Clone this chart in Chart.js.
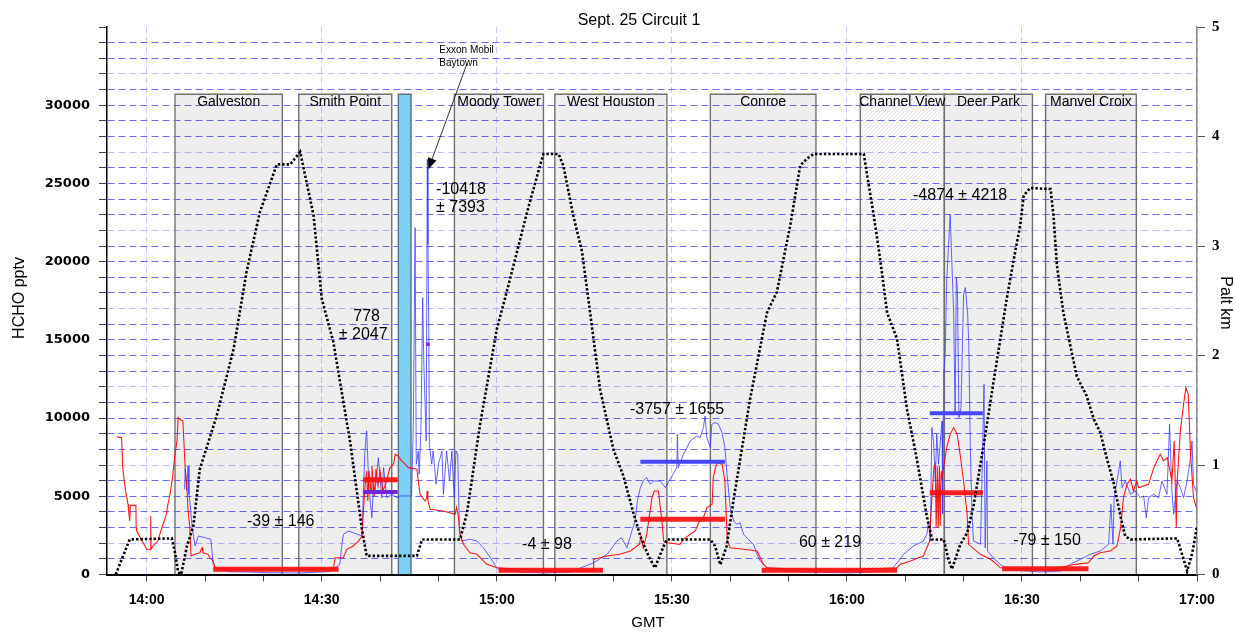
<!DOCTYPE html>
<html>
<head>
<meta charset="utf-8">
<script src="https://cdn.jsdelivr.net/npm/chart.js@4/dist/chart.umd.min.js"></script>
<style>
  html, body { margin: 0; padding: 0; background: #fff; }
  canvas { display: block; }
</style>
</head>
<body>
<canvas id="chart" width="1235" height="632"></canvas>
<script>
Chart.defaults.font.family = '"Liberation Sans", Arial, sans-serif';
Chart.defaults.color = '#000';

// time axis is minutes after 14:00 GMT
// sampling boxes (site name, start, end) and the plume crossing
const SITE_NAMES = ['Galveston', 'Smith Point', 'Moody Tower', 'West Houston', 'Conroe', 'Channel View', 'Deer Park', 'Manvel Croix'];
const SITE_START = [4.85, 26.06, 52.74, 69.95, 96.6, 122.3, 136.7, 154.05];
const SITE_END   = [23.25, 42.0, 68.0, 89.15, 114.7, 136.7, 151.8, 169.6];
const SITE_TOP = 30700;
const PLUME = [43.13, 45.3];

// pressure altitude, km
const ALT_KM = [
  [-5.3,0],[-4.2,0.15],[-2.9,0.32],[4.3,0.33],[4.85,0.2],[5.4,0.02],[5.9,0],[6.9,0.26],[8.0,0.44],[9.1,0.96],
  [12.0,1.45],[14.9,2.06],[17.1,2.76],[19.4,3.31],[22.3,3.745],[24.6,3.745],[26.3,3.86],[28.6,3.28],[30.0,2.52],
  [32.0,2.12],[34.9,1.2],[36.9,0.41],[37.7,0.17],[46.3,0.17],[47.2,0.32],[53.7,0.32],[54.9,0.565],[57.1,1.36],
  [60.0,2.24],[61.7,2.58],[65.2,3.31],[67.4,3.735],[68.0,3.84],[70.6,3.84],[71.4,3.735],[73.1,3.28],[74.6,2.95],
  [76.0,2.39],[77.7,1.69],[80.0,1.14],[81.7,0.9],[83.4,0.565],[84.6,0.35],[86.0,0.17],[87.1,0.06],[88.6,0.26],
  [89.2,0.32],[96.6,0.32],[97.4,0.26],[98.3,0.09],[99.4,0.26],[100.6,0.69],[103.4,1.6],[106.3,2.39],[108.0,2.58],
  [110.3,3.19],[112.0,3.735],[113.2,3.8],[114.3,3.84],[122.9,3.84],[123.4,3.67],[124.6,3.28],[125.7,2.88],
  [126.9,2.39],[128.6,2.15],[130.3,1.51],[132.0,1.05],[133.7,0.53],[134.6,0.32],[136.6,0.32],[137.4,0.14],
  [138.0,0.05],[139.4,0.27],[140.6,0.38],[141.7,0.625],[143.4,1.17],[145.1,1.75],[147.4,2.52],[148.6,2.88],
  [149.7,3.19],[150.3,3.46],[151.4,3.53],[154.9,3.52],[155.4,3.28],[156.0,2.82],[157.1,2.39],[159.4,1.81],
  [161.1,1.63],[162.3,1.42],[163.4,1.30],[164.6,1.05],[165.7,0.84],[166.9,0.53],[167.7,0.35],[168.6,0.32],
  [176.6,0.33],[177.7,0.14],[178.3,0.03],[179.2,0.2],[180.0,0.44]
];

// HCHO, pptv (red instrument)
const RED_HCHO = [
  [-5.1,8800],[-4.3,8750],[-4.1,6830],[-3.7,5550],[-3.2,4490],[-3.1,4060],[-2.9,3420],[-2.8,4420],[-1.85,4420],
  [-1.8,2990],[-1.7,2780],[0,1610],[0.65,1610],[0.7,3740],[0.75,1610],[1.1,1820],[1.9,2140],[2.8,3210],[3.3,3740],
  [3.65,4490],[4.0,5130],[4.35,5980],[4.85,7690],[5.2,8540],[5.4,10030],[5.7,9920],[6.2,9810],[6.6,6830],
  [6.9,5550],[7.1,4060],[7.4,2990],[7.6,1180],[8.3,1290],[9.1,1390],[9.5,1710],[9.65,1390],[10.5,1290],
  [10.85,1070],[11.4,860],[11.7,430],[14.3,320],[22.9,290],[31.4,350],[32.0,430],[32.3,1070],[33.7,1070],
  [34.3,1610],[35.4,1820],[36.3,2140],[36.9,2460],[37.1,3850],[37.4,5550],[37.7,6620],[37.9,4700],[38.1,6620],
  [38.45,5340],[38.6,6940],[39.0,5020],[39.3,6750],[39.65,5660],[40.0,6620],[40.5,5340],[41.15,5980],
  [41.4,6410],[41.7,6830],[42.3,7050],[42.6,7690],[43.1,7580],[43.7,7260],[44.3,7050],[44.85,6830],[46.3,6730],
  [46.85,5130],[47.7,4700],[48.0,4910],[48.05,5340],[48.2,4700],[48.6,4170],[50.85,4060],[52.85,3850],
  [53.1,4270],[53.4,3740],[53.7,2570],[54.3,1930],[55.4,1390],[56.6,1290],[58.3,650],[60.0,430],[67.4,260],
  [76.5,290],[76.6,970],[78.9,1180],[81.1,1290],[82.9,1500],[84.45,1930],[84.7,2460],[85.1,1710],[85.7,2570],
  [86.6,4910],[87.0,5340],[87.7,5340],[88.3,3420],[88.6,2140],[89.2,2030],[91.4,1930],[92.0,2250],[93.15,2570],
  [94.0,2780],[94.6,3310],[95.4,3630],[96.0,4270],[96.9,4490],[97.1,6190],[97.7,7150],[98.6,7050],[99.1,5980],
  [99.5,2140],[100.0,1710],[102.3,1610],[104.6,1500],[105.7,650],[106.3,430],[117.1,260],[128.6,430],
  [129.15,650],[130.9,860],[133.1,1180],[133.7,1710],[134.2,2140],[134.4,3850],[134.9,6830],[135.15,7050],
  [135.3,2990],[135.5,6900],[135.65,2990],[135.85,6950],[136.0,3100],[136.15,6600],[136.3,6190],[137.1,8110],
  [137.7,8960],[138.3,9390],[138.9,8960],[139.4,7690],[140.0,5980],[140.6,3850],[140.85,1930],[142.9,1290],
  [144.6,970],[145.7,650],[146.3,430],[154.9,320],[159.15,650],[161.4,750],[162.3,1180],[163.4,1390],
  [165.15,1500],[166.3,1820],[166.9,2990],[167.4,4910],[168.0,5770],[168.6,6090],[169.1,5340],[169.7,5980],
  [170.0,5550],[171.7,5770],[172.6,6830],[173.7,7690],[174.3,7260],[174.9,7470],[175.7,5980],[176.1,8540],
  [176.45,2990],[176.6,5980],[177.15,9180],[177.7,10880],[178.1,11940],[178.5,11520],[178.9,7690],
  [179.4,4910],[179.9,4270]
];

// HCHO, pptv (blue instrument)
const BLUE_HCHO = [
  [6.5,5450],[6.6,6750],[6.85,5340],[7.1,6940],[7.25,5130],[7.4,4700],[7.8,2990],[8.3,1820],[8.85,2460],
  [10.0,2350],[11.0,2250],[11.4,650],[12.05,350],[14.0,180],[17.7,160],[21.0,110],[26.3,100],[29.0,150],
  [31.4,190],[33.1,650],[33.4,1710],[33.7,2570],[34.6,2780],[35.4,2670],[36.9,2460],[37.1,4700],[37.4,7900],
  [37.7,9180],[38.0,6410],[38.3,4700],[38.6,3630],[38.85,5550],[39.1,5130],[39.7,7470],[40.3,4910],[40.6,6830],
  [41.15,4910],[42.0,5130],[42.9,4910],[43.4,5020],[45.4,5020],[45.7,9600],[46.0,22170],[46.2,7050],
  [46.55,7900],[46.7,6410],[47.0,9180],[47.3,17700],[47.5,13440],[47.9,8540],[48.1,26550],[48.2,21110],
  [48.35,15570],[48.45,8330],[48.85,7050],[49.1,7900],[49.6,5770],[50.0,7050],[50.6,7900],[50.85,5130],
  [51.4,7900],[51.9,5980],[52.3,7900],[52.7,4910],[53.0,7900],[53.3,7690],[53.6,2780],[54.0,2140],[55.4,2250],
  [56.6,2140],[57.7,1710],[58.9,1070],[60.0,430],[64.0,160],[68.3,100],[72.6,160],[76.6,750],[78.9,1290],
  [80.6,2140],[81.4,2350],[82.3,1710],[83.15,2780],[83.7,3420],[84.1,4700],[84.6,5550],[85.1,5980],[85.7,6190],
  [86.3,5770],[86.85,5980],[88.0,5980],[88.9,5550],[89.7,6090],[90.85,6830],[90.95,8960],[91.1,6830],
  [92.0,7690],[93.15,8540],[94.3,8860],[94.85,8750],[95.4,9390],[95.7,10130],[96.0,8750],[96.6,8110],
  [96.85,9600],[97.4,9710],[98.0,9600],[98.6,9070],[99.1,8110],[99.4,6620],[100.0,4270],[100.6,3420],
  [101.15,3210],[101.7,3310],[102.3,2570],[103.4,2140],[104.0,1930],[104.6,1290],[105.15,860],[106.3,430],
  [112.0,160],[120.6,100],[127.4,220],[128.6,750],[129.7,1290],[131.4,1820],[133.1,2140],[133.7,2570],
  [134.0,3420],[134.3,2140],[134.55,9390],[134.85,8540],[135.15,5980],[135.4,8960],[135.7,7050],[136.3,9810],
  [136.4,3870],[136.5,10270],[136.6,12800],[136.85,14080],[137.1,18770],[137.4,20900],[137.7,23030],
  [137.9,20900],[138.3,16640],[138.55,10240],[138.75,18980],[138.95,18130],[139.2,10030],[139.55,10670],
  [140.0,17920],[140.3,18340],[140.7,16640],[140.9,14500],[141.15,8110],[141.45,3850],[141.7,2140],
  [142.9,1930],[143.5,12160],[143.7,1710],[144.0,7260],[144.1,1500],[145.1,1070],[146.3,650],[147.4,330],
  [153.1,160],[156.6,220],[158.3,650],[160.0,970],[161.7,1290],[163.4,1500],[164.85,1930],[165.25,4490],
  [165.6,1930],[165.8,4910],[166.3,5980],[166.85,7260],[167.15,5550],[167.7,5980],[168.6,5130],[169.4,5340],
  [170.3,4910],[170.85,5020],[171.3,3630],[171.7,4910],[172.6,5130],[173.4,4910],[174.0,5980],[174.85,5130],
  [175.3,9600],[175.7,5340],[176.0,3850],[176.6,5980],[177.15,5550],[177.7,4910],[178.3,5980],[178.9,7470],
  [179.15,8540],[179.4,5770],[179.85,5340]
];

// leg means: [start, end, pptv]
const RED_MEANS = [[11.4,32.9,330],[37.1,43.0,6060],[60.3,78.2,270],[84.6,99.1,3530],[105.4,128.6,270],[134.2,143.3,5230],[146.6,161.4,370]];
const BLUE_MEANS = [[84.6,99.1,7210],[134.2,143.3,10310]];
const PURPLE_MEANS = [[37.1,43.0,5280]];
const PURPLE_POINT = [[48.2,14720]];

// difference labels: text, time, pptv, alignment
const DIFF_TEXT  = ['-39 ± 146', '778', '± 2047', '-10418', '± 7393', '-4 ± 98', '-3757 ± 1655', '60 ± 219', '-4874 ± 4218', '-79 ± 150'];
const DIFF_T     = [22.97, 37.7, 37.1, 49.6, 49.6, 68.6, 90.9, 117.1, 139.4, 154.3];
const DIFF_PPTV  = [3360, 16480, 15360, 24590, 23450, 1890, 10560, 2030, 24250, 2140];
const DIFF_ALIGN = ['center', 'center', 'center', 'left', 'left', 'center', 'center', 'center', 'center', 'center'];

const X_TICKS = { min: -6.8, max: 180, step: 10 };

const pts = arr => arr.map(([x, y]) => ({ x, y }));
const segs = list => list.flatMap(([a, b, v]) => [{ x: a, y: v }, { x: b, y: v }, { x: b, y: null }]);
const box = (a, b) => [{ x: a, y: 0 }, { x: a, y: SITE_TOP }, { x: b, y: SITE_TOP }, { x: b, y: 0 }];

const cv = document.getElementById('chart');
function hatch() {
  const c = document.createElement('canvas');
  c.width = c.height = 4;
  const g = c.getContext('2d');
  g.fillStyle = 'rgba(0,0,0,0.025)';
  g.fillRect(0, 0, 4, 4);
  g.strokeStyle = 'rgba(0,0,0,0.1)';
  g.lineWidth = 0.8;
  g.beginPath();
  g.moveTo(0, 4); g.lineTo(4, 0);
  g.moveTo(-1, 1); g.lineTo(1, -1);
  g.moveTo(3, 5); g.lineTo(5, 3);
  g.stroke();
  return cv.getContext('2d').createPattern(c, 'repeat');
}

const boxSets = SITE_NAMES.map((n, i) => ({
  label: n,
  data: box(SITE_START[i], SITE_END[i]),
  yAxisID: 'y',
  fill: 'origin',
  backgroundColor: n === 'Channel View' ? hatch() : 'rgba(0,0,0,0.068)',
  borderColor: '#6f6f6f',
  borderWidth: 1.4,
  pointRadius: 0,
  order: 10,
}));

const datasets = [
  {
    label: 'Palt', data: pts(ALT_KM), yAxisID: 'y2',
    borderColor: '#000', borderWidth: 2.6, borderDash: [2.4, 2], pointRadius: 0, order: 0,
  },
  {
    label: 'red means', data: segs(RED_MEANS), yAxisID: 'y',
    borderColor: 'rgba(255,15,15,0.92)', borderWidth: 5, borderCapStyle: 'butt', pointRadius: 0, order: 1,
  },
  {
    label: 'blue means', data: segs(BLUE_MEANS), yAxisID: 'y',
    borderColor: '#4646ff', borderWidth: 4, borderCapStyle: 'butt', pointRadius: 0, order: 1,
  },
  {
    label: 'purple means', data: segs(PURPLE_MEANS), yAxisID: 'y',
    borderColor: '#7424d8', borderWidth: 4, borderCapStyle: 'butt', pointRadius: 0, order: 1,
  },
  {
    label: 'marker', data: pts(PURPLE_POINT), yAxisID: 'y', showLine: false,
    pointStyle: 'rect', pointRadius: 2.5, pointBackgroundColor: '#8a1ee0', pointBorderWidth: 0, order: 1,
  },
  {
    label: 'HCHO red', data: pts(RED_HCHO), yAxisID: 'y',
    borderColor: 'rgba(255,0,0,0.9)', borderWidth: 1.1, pointRadius: 0, order: 2,
  },
  {
    label: 'HCHO blue', data: pts(BLUE_HCHO), yAxisID: 'y',
    borderColor: 'rgba(60,60,255,0.8)', borderWidth: 1, pointRadius: 0, order: 3,
  },
  {
    label: 'plume', data: box(PLUME[0], PLUME[1]), yAxisID: 'y', fill: 'origin',
    backgroundColor: '#7fd0f6', borderColor: '#5a6f80', borderWidth: 1.4, pointRadius: 0, order: 9,
  },
  ...boxSets,
];

const fmtTime = v => {
  const m = Math.round(v);
  return (14 + Math.floor(m / 60)) + ':' + String(m % 60).padStart(2, '0');
};

// site names, leg differences, arrow and titles
const overlay = {
  id: 'overlay',
  afterDatasetsDraw(chart) {
    const { ctx, scales: { x, y } } = chart;
    ctx.save();
    ctx.fillStyle = '#000';
    ctx.textAlign = 'center';
    ctx.textBaseline = 'alphabetic';
    ctx.font = '14px "Liberation Sans", Arial, sans-serif';
    SITE_NAMES.forEach((n, i) => {
      ctx.fillText(n, x.getPixelForValue((SITE_START[i] + SITE_END[i]) / 2), y.getPixelForValue(SITE_TOP) + 12);
    });

    ctx.font = '16px "Liberation Sans", Arial, sans-serif';
    ctx.textBaseline = 'middle';
    DIFF_TEXT.forEach((t, i) => {
      ctx.textAlign = DIFF_ALIGN[i];
      ctx.fillText(t, x.getPixelForValue(DIFF_T[i]), y.getPixelForValue(DIFF_PPTV[i]));
    });

    // Exxon Mobil note and arrow to the spike
    ctx.font = '10px "Liberation Sans", Arial, sans-serif';
    ctx.textAlign = 'left';
    ctx.fillText('Exxon Mobil', x.getPixelForValue(50.16), y.getPixelForValue(33520));
    ctx.fillText('Baytown', x.getPixelForValue(50.16), y.getPixelForValue(32700));
    const x0 = x.getPixelForValue(54.86), y0 = y.getPixelForValue(32620);
    const x1 = x.getPixelForValue(48.28), y1 = y.getPixelForValue(25910);
    const ang = Math.atan2(y1 - y0, x1 - x0);
    ctx.strokeStyle = '#000';
    ctx.lineWidth = 0.8;
    ctx.beginPath();
    ctx.moveTo(x0, y0);
    ctx.lineTo(x1 - 8 * Math.cos(ang), y1 - 8 * Math.sin(ang));
    ctx.stroke();
    ctx.beginPath();
    ctx.moveTo(x1, y1);
    ctx.lineTo(x1 - 11 * Math.cos(ang) + 4.5 * Math.sin(ang), y1 - 11 * Math.sin(ang) - 4.5 * Math.cos(ang));
    ctx.lineTo(x1 - 11 * Math.cos(ang) - 4.5 * Math.sin(ang), y1 - 11 * Math.sin(ang) + 4.5 * Math.cos(ang));
    ctx.closePath();
    ctx.fill();
    ctx.restore();
  },
  afterDraw(chart) {
    const { ctx } = chart;
    ctx.save();
    ctx.fillStyle = '#000';
    ctx.textAlign = 'center';
    ctx.textBaseline = 'middle';
    ctx.font = '16px "Liberation Sans", Arial, sans-serif';
    ctx.fillText('Sept. 25 Circuit 1', 639, 21);
    ctx.font = '15px "Liberation Sans", Arial, sans-serif';
    ctx.fillText('GMT', 648, 623);
    ctx.font = '16px "Liberation Sans", Arial, sans-serif';
    ctx.save();
    ctx.translate(20, 298);
    ctx.rotate(-Math.PI / 2);
    ctx.fillText('HCHO pptv', 0, 0);
    ctx.restore();
    ctx.translate(1225, 303);
    ctx.rotate(Math.PI / 2);
    ctx.fillText('Palt km', 0, 0);
    ctx.restore();
  },
};

new Chart(cv, {
  type: 'line',
  data: { datasets },
  plugins: [overlay],
  options: {
    responsive: false,
    animation: false,
    devicePixelRatio: 1,
    layout: { padding: { top: 27, left: 0, right: 0, bottom: 0 } },
    elements: { line: { tension: 0 } },
    plugins: { legend: { display: false }, tooltip: { enabled: false } },
    scales: {
      x: {
        type: 'linear', min: X_TICKS.min, max: X_TICKS.max,
        afterFit: s => { s.height = 57.5; },
        ticks: {
          stepSize: X_TICKS.step, includeBounds: false, autoSkip: false, maxRotation: 0, padding: 10,
          font: { size: 14, weight: 'bold' },
          callback: v => (v % 30 === 0 ? fmtTime(v) : ''),
        },
        grid: {
          color: c => (c.tick && c.tick.value % 30 === 0 ? '#c9c9ff' : 'rgba(0,0,0,0)'),
          tickColor: '#444', tickLength: 7, lineWidth: 1,
        },
        border: { color: '#000', width: 2, dash: [6, 4] },
      },
      y: {
        type: 'linear', position: 'left', min: 0, max: 35000,
        afterFit: s => { s.width = 107; },
        ticks: {
          stepSize: 1000, autoSkip: false, padding: 9,
          font: { family: '"DejaVu Sans", sans-serif', size: 13, weight: 'bold' },
          callback: v => (v % 5000 === 0 && v <= 30000 ? String(v) : ''),
        },
        grid: {
          color: c => {
            const v = c.tick ? c.tick.value : 0;
            if (v >= 35000) return 'rgba(0,0,0,0)';
            return v % 5000 === 2000 ? '#bdbdff' : '#6c6cff';
          },
          tickColor: '#444', tickLength: 8, lineWidth: 1,
        },
        border: { color: '#000', width: 1.5, dash: [7, 4] },
      },
      y2: {
        type: 'linear', position: 'right', min: 0, max: 5,
        afterFit: s => { s.width = 38; },
        ticks: {
          stepSize: 1, autoSkip: false, padding: 7,
          font: { family: '"Liberation Serif", serif', size: 15, weight: 'bold' },
        },
        grid: { drawOnChartArea: false, tickColor: '#555', tickLength: 8 },
        border: { color: '#8a8a8a', width: 1.5 },
      },
    },
  },
});
</script>
</body>
</html>
